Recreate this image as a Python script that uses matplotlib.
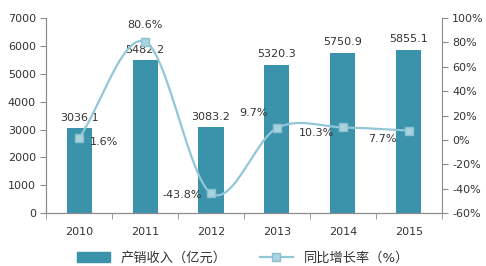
import numpy as np
import matplotlib.pyplot as plt
from matplotlib.lines import Line2D
from matplotlib.patches import Patch

plt.rcParams['font.family'] = ['DejaVu Sans', 'Noto Sans CJK SC']

years = ['2010', '2011', '2012', '2013', '2014', '2015']
revenue = [3036.1, 5482.2, 3083.2, 5320.3, 5750.9, 5855.1]
growth = [1.6, 80.6, -43.8, 9.7, 10.3, 7.7]
growth_labels = ['1.6%', '80.6%', '-43.8%', '9.7%', '10.3%', '7.7%']


def catmull_rom(x, y, n=30):
    # smooth curve through the points, like a spreadsheet "smoothed line"
    x = np.asarray(x, float)
    y = np.asarray(y, float)
    px = np.concatenate([[2 * x[0] - x[1]], x, [2 * x[-1] - x[-2]]])
    py = np.concatenate([[2 * y[0] - y[1]], y, [2 * y[-1] - y[-2]]])
    xs, ys = [], []
    for i in range(1, len(px) - 2):
        t = np.linspace(0, 1, n)
        for p, out in ((px, xs), (py, ys)):
            p0, p1, p2, p3 = p[i - 1], p[i], p[i + 1], p[i + 2]
            out.extend(0.5 * (2 * p1 + (-p0 + p2) * t
                              + (2 * p0 - 5 * p1 + 4 * p2 - p3) * t ** 2
                              + (-p0 + 3 * p1 - 3 * p2 + p3) * t ** 3))
    return np.array(xs), np.array(ys)


bar_color = '#3a93ab'
line_color = '#93c6d6'
text_color = '#333333'
spine_color = '#8c8c8c'
fs = 8

fig = plt.figure(figsize=(4.86, 2.66), dpi=100)
ax = fig.add_axes([0.095, 0.199, 0.814, 0.733])
ax2 = ax.twinx()

x = np.arange(len(years))
ax.bar(x, revenue, width=0.38, color=bar_color, zorder=2)
for xi, v in zip(x, revenue):
    ax.annotate(f'{v:.1f}', (xi, v), xytext=(0, 4), textcoords='offset points',
                ha='center', va='bottom', fontsize=fs, color=text_color)

ax.set_xlim(-0.5, len(years) - 0.5)
ax.set_ylim(0, 7000)
ax.set_yticks(np.arange(0, 7001, 1000))
ax.set_xticks(x)
ax.set_xticklabels(years)
ax.set_xticks(np.arange(-0.5, len(years), 1), minor=True)
ax.tick_params(axis='x', which='major', length=0, pad=10, labelsize=fs, labelcolor=text_color)
ax.tick_params(axis='x', which='minor', length=4, color=spine_color, direction='out')
ax.tick_params(axis='y', length=4, color=spine_color, labelsize=fs, labelcolor=text_color)

sx, sy = catmull_rom(x, growth)
ax2.plot(sx, sy, color=line_color, lw=1.6, zorder=3)
ax2.plot(x, growth, ls='none', marker='s', ms=6, mfc='#a9d3df', mec='#8cbfcf', zorder=4)
ax2.set_ylim(-60, 100)
ax2.set_yticks(np.arange(-60, 101, 20))
ax2.set_yticklabels([f'{v}%' for v in range(-60, 101, 20)])
ax2.tick_params(axis='y', length=4, color=spine_color, labelsize=fs, labelcolor=text_color)

offsets = [(18, -3), (0, 12), (-21, -1), (-17, 11), (-19, -4), (-19, -6)]
for xi, v, lab, (dx, dy) in zip(x, growth, growth_labels, offsets):
    ax2.annotate(lab, (xi, v), xytext=(dx, dy), textcoords='offset points',
                 ha='center', va='center', fontsize=fs, color=text_color, zorder=5)

for a in (ax, ax2):
    a.spines['top'].set_visible(False)
    for s in ('left', 'right', 'bottom'):
        a.spines[s].set_color(spine_color)
ax.spines['right'].set_visible(False)

handles = [Patch(color=bar_color),
           Line2D([], [], color=line_color, lw=1.6, marker='s', ms=6, mfc='#a9d3df', mec='#8cbfcf')]
fig.legend(handles, ['产销收入（亿元）', '同比增长率（%）'], loc='center', bbox_to_anchor=(0.5, 0.03),
           ncol=2, frameon=False, fontsize=9.5, handlelength=2.5, columnspacing=2.5,
           labelcolor=text_color)

fig.savefig('out.png', dpi=100)
